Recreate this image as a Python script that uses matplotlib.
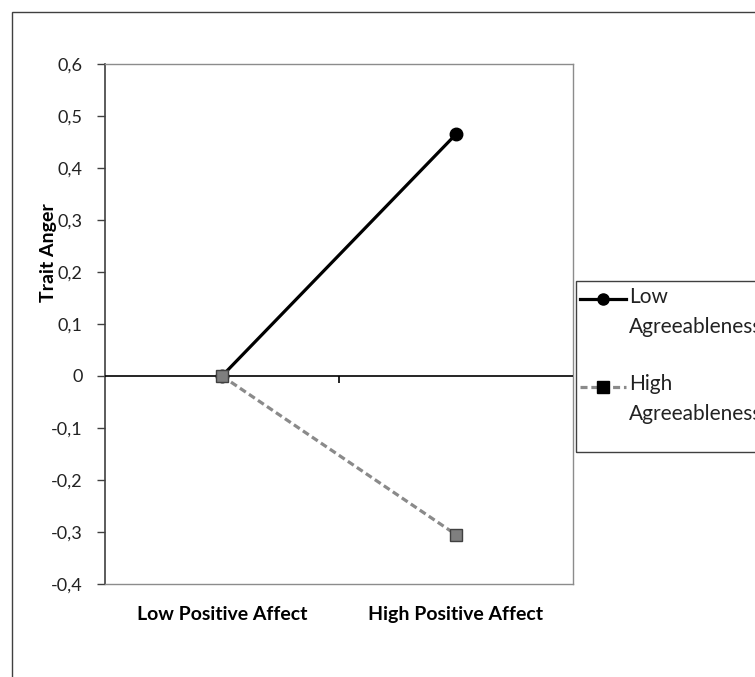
import matplotlib
matplotlib.use('Agg')
import matplotlib.pyplot as plt
from matplotlib.patches import Rectangle
from matplotlib.lines import Line2D
from matplotlib.legend_handler import HandlerLine2D

plt.rcParams['font.family'] = ['Lato', 'DejaVu Sans']

categories = ['Low Positive Affect', 'High Positive Affect']
low_agree = [0.0, 0.465]
high_agree = [0.0, -0.305]
series_names = ['Low\nAgreeableness', 'High\nAgreeableness']
yticks = [0.6, 0.5, 0.4, 0.3, 0.2, 0.1, 0.0, -0.1, -0.2, -0.3, -0.4]


class RaisedLine(HandlerLine2D):
    # put the legend handle next to the first text line instead of the middle
    def __init__(self, shift, **kw):
        super().__init__(**kw)
        self.shift = shift

    def create_artists(self, legend, orig_handle, xdescent, ydescent,
                       width, height, fontsize, trans):
        return super().create_artists(legend, orig_handle, xdescent,
                                      ydescent - self.shift * fontsize,
                                      width, height, fontsize, trans)


fig = plt.figure(figsize=(7.55, 6.77), dpi=100)
W, H = 755, 677

# outer chart border (cut off at right and bottom like the source)
fig.patches.append(Rectangle((12 / W, -0.1), 1.2, 1 - 12 / H + 0.1,
                             transform=fig.transFigure, fill=False,
                             edgecolor='#404040', linewidth=1.0))
# legend frame
fig.patches.append(Rectangle((576 / W, 1 - 452 / H), 0.5, 171 / H,
                             transform=fig.transFigure, fill=False,
                             edgecolor='#404040', linewidth=1.0))

ax = fig.add_axes([105 / W, 1 - 584 / H, 468 / W, 520 / H])
x = list(range(len(categories)))

ax.plot(x, low_agree, color='black', linewidth=2.3, marker='o',
        markersize=9, markerfacecolor='black', markeredgecolor='black',
        label=series_names[0], zorder=4)
ax.plot(x, high_agree, color='#8a8a8a', linewidth=2.3, linestyle=(0, (2.2, 1.2)),
        marker='s', markersize=8.5, markerfacecolor='#7f7f7f',
        markeredgecolor='#404040', markeredgewidth=1.0,
        label=series_names[1], zorder=5)

ax.set_xlim(-0.5, 1.5)
ax.set_ylim(-0.4, 0.6)

# horizontal axis at zero with a tick between the categories
ax.axhline(0, color='black', linewidth=1.2, zorder=3)
ax.vlines([0.5], -0.014, 0, color='black', linewidth=1.2, zorder=3)

ax.set_yticks(yticks)
ax.set_yticklabels(['0' if v == 0 else f'{v:.1f}'.replace('.', ',') for v in yticks],
                   fontsize=13, color='#222222')
ax.tick_params(axis='y', length=6, width=1.0, color='#404040', pad=10)

ax.set_xticks(x)
ax.set_xticklabels(categories, fontsize=14, fontweight='bold')
ax.tick_params(axis='x', length=0, pad=16)

ax.set_ylabel('Trait Anger', fontsize=14, fontweight='bold')
ax.yaxis.set_label_coords(-0.102, 0.637)

for side in ['top', 'right', 'bottom']:
    ax.spines[side].set_color('#8c8c8c')
    ax.spines[side].set_linewidth(1.0)
ax.spines['left'].set_color('#404040')
ax.spines['left'].set_linewidth(1.2)

leg = ax.legend(loc='upper left', bbox_to_anchor=(580 / W, 1 - 287 / H),
                bbox_transform=fig.transFigure, fontsize=15, frameon=False,
                borderpad=0.0, labelspacing=1.8,
                handlelength=2.2, handletextpad=0.15, borderaxespad=0,
                handler_map={Line2D: RaisedLine(1.25)})
leg.legend_handles[1].set_markerfacecolor('black')
leg.legend_handles[1].set_markeredgecolor('black')
for h in leg.legend_handles:
    h.set_markersize(8)
for t in leg.get_texts():
    t.set_color('#222222')
    t.set_linespacing(1.6)

fig.savefig('out.png', dpi=100)
